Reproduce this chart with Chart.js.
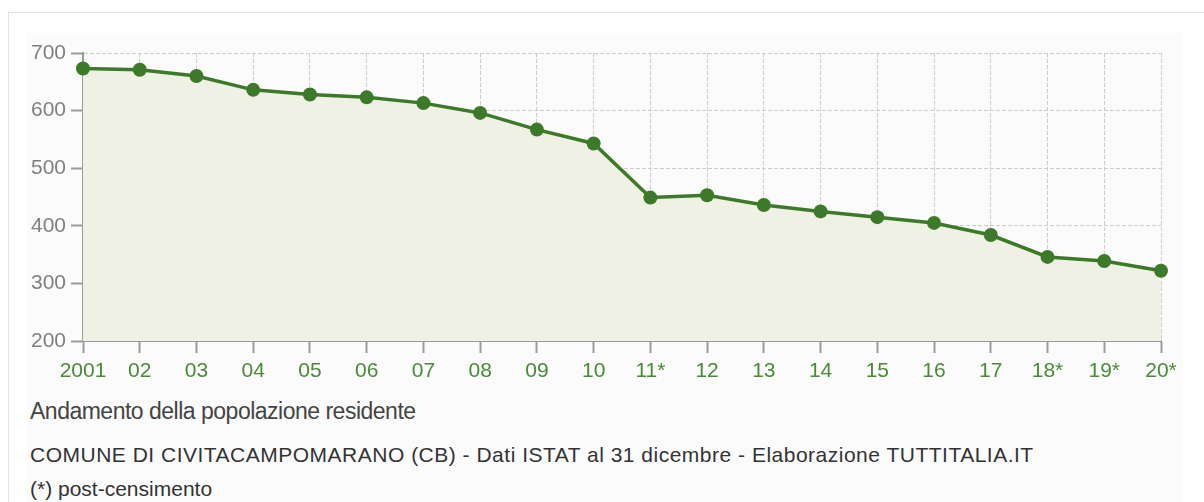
<!DOCTYPE html>
<html><head><meta charset="utf-8">
<script src="https://cdn.jsdelivr.net/npm/chart.js@4"></script>
<style>
html,body{margin:0;padding:0;background:#fff;width:1204px;height:502px;overflow:hidden;font-family:"Liberation Sans",Arial,sans-serif;}
#frame{position:absolute;left:8px;top:12px;width:1210px;height:500px;border:1px solid #e2e2e2;background:#fff;}
#panel{position:absolute;left:27px;top:33px;width:1156px;height:480px;background:#fbfbfb;}
#wrap{position:absolute;left:0;top:0;width:1204px;height:395px;}
.t{position:absolute;left:30px;white-space:nowrap;line-height:1;}
#title{top:400px;font-size:23px;letter-spacing:-0.5px;color:#444;}
#sub{top:444px;font-size:21px;letter-spacing:0.5px;color:#333;}
#note{top:478px;font-size:21px;color:#333;}
</style></head><body>
<div id="frame"></div><div id="panel"></div>
<div id="wrap"><canvas id="c" width="1204" height="395"></canvas></div>
<div class="t" id="title">Andamento della popolazione residente</div>
<div class="t" id="sub">COMUNE DI CIVITACAMPOMARANO (CB) - Dati ISTAT al 31 dicembre - Elaborazione TUTTITALIA.IT</div>
<div class="t" id="note">(*) post-censimento</div>
<script>
const years = ["2001","02","03","04","05","06","07","08","09","10","11*","12","13","14","15","16","17","18*","19*","20*"];
const population = [673,671,660,636,628,623,613,596,567,543,449,453,436,425,415,405,384,346,339,322];
const yTicks = [200,300,400,500,600,700];

new Chart(document.getElementById('c'), {
  type: 'line',
  data: { labels: years, datasets: [{
    data: population,
    borderColor: '#3c7a2a',
    backgroundColor: '#eff1e4',
    borderWidth: 3.5,
    pointRadius: 7,
    pointBackgroundColor: '#3c7a2a',
    pointBorderColor: '#3c7a2a',
    pointBorderWidth: 0,
    fill: 'start',
    tension: 0
  }]},
  options: {
    responsive: false,
    animation: false,
    layout: { padding: { top: 53, right: 43, left: 0, bottom: 0 } },
    plugins: { legend: { display: false }, tooltip: { enabled: false } },
    scales: {
      x: {
        offset: false,
        grid: { color: '#cdcdcd', tickColor: '#9a9a9a', tickLength: 12, tickBorderDash: [], tickWidth: 2 },
        border: { color: '#9a9a9a', width: 2, dash: [4,2] },
        ticks: { color: '#4a8a3a', font: { family: 'Liberation Sans', size: 21 }, padding: 6, maxRotation: 0, autoSkip: false },
        afterFit: s => { s.height = 54; }
      },
      y: {
        min: 200, max: 700,
        afterBuildTicks: s => { s.ticks = yTicks.map(v => ({ value: v })); },
        grid: { color: '#cdcdcd', tickColor: '#9a9a9a', tickLength: 12, tickBorderDash: [], tickWidth: 2 },
        border: { color: '#9a9a9a', width: 2, dash: [4,2] },
        ticks: { color: '#808080', font: { family: 'Liberation Sans', size: 21 }, padding: 5 },
        afterFit: s => { s.width = 83; }
      }
    }
  }
});
</script>
</body></html>
